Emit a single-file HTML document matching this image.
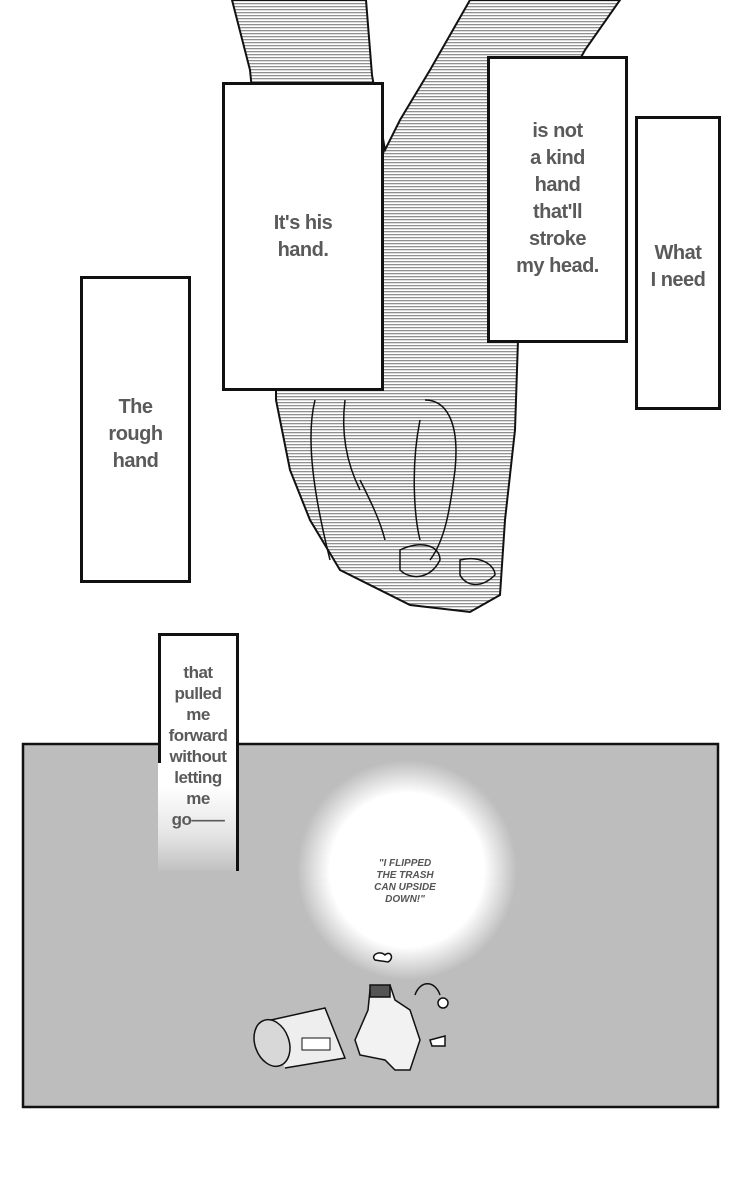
<!DOCTYPE html>
<html><head><meta charset="utf-8"><style>
html,body{margin:0;padding:0;background:#fff;}
body{width:750px;height:1192px;position:relative;overflow:hidden;font-family:"Liberation Sans",sans-serif;}
.box{position:absolute;background:#fff;border:3px solid #111;box-sizing:border-box;}
.t{position:absolute;text-align:center;color:#5a5a5a;font-weight:bold;font-size:20px;line-height:27px;letter-spacing:-0.5px;}
</style></head><body>
<svg width="750" height="1192" style="position:absolute;left:0;top:0">
<defs>
<pattern id="hl" width="4" height="3" patternUnits="userSpaceOnUse">
<rect width="4" height="3" fill="#fff"/><rect width="4" height="1.3" fill="#909090"/>
</pattern>
<radialGradient id="glow" cx="0.5" cy="0.5" r="0.5">
<stop offset="0" stop-color="#fff"/><stop offset="0.7" stop-color="#fff"/><stop offset="1" stop-color="#fff" stop-opacity="0"/>
</radialGradient>
</defs>
<path d="M232,0 L366,0 L372,75 L385,150 L400,120 L430,70 L470,0 L620,0 L585,50 L525,160 L518,340 L515,430 L505,520 L500,595 L470,612 L410,605 L340,570 L310,520 L290,470 L276,400 L276,330 L250,70 Z" fill="url(#hl)" stroke="#111" stroke-width="2"/>
<g fill="none" stroke="#111" stroke-width="1.5">
<path d="M315,400 C305,440 315,500 330,560"/>
<path d="M345,400 C340,440 350,470 360,490"/>
<path d="M425,400 C445,400 460,420 455,470 C450,510 445,540 430,560"/>
<path d="M420,420 C410,470 415,520 420,540"/>
<path d="M400,550 C420,540 440,545 440,560 C430,580 410,580 400,570 Z"/>
<path d="M460,560 C480,555 495,565 495,575 C480,590 465,585 460,575 Z"/>
<path d="M360,480 C370,500 380,520 385,540"/>
</g>
<rect x="23" y="744" width="695" height="363" fill="#bdbdbd" stroke="#111" stroke-width="2.5"/>
<circle cx="407" cy="870" r="110" fill="url(#glow)"/>
<g stroke="#111" stroke-width="1.5">
<path d="M262,1022 L325,1008 L345,1058 L285,1068" fill="#eee"/>
<ellipse cx="272" cy="1043" rx="17" ry="24" fill="#d8d8d8" transform="rotate(-20 272 1043)"/>
<rect x="302" y="1038" width="28" height="12" fill="#fff" stroke-width="1"/>
<path d="M370,990 L390,985 L395,1000 L410,1010 L420,1040 L410,1070 L395,1070 L385,1060 L360,1055 L355,1040 L368,1010 Z" fill="#f2f2f2"/>
<rect x="370" y="985" width="20" height="12" fill="#555"/>
<path d="M375,960 C370,955 380,950 385,955 C390,950 395,958 388,962 Z" fill="#fff"/>
<path d="M415,995 C420,980 435,980 440,995" fill="none"/>
<circle cx="443" cy="1003" r="5" fill="#fff"/>
<path d="M430,1040 L445,1036 L445,1046 L432,1046 Z" fill="#fff"/>
</g>
</svg>

<div class="box" style="left:222px;top:82px;width:162px;height:309px"></div>
<div class="t" style="left:222px;top:210px;width:162px">It's his<br>hand.</div>

<div class="box" style="left:487px;top:56px;width:141px;height:287px"></div>
<div class="t" style="left:487px;top:118px;width:141px">is not<br>a kind<br>hand<br>that'll<br>stroke<br>my head.</div>

<div class="box" style="left:635px;top:116px;width:86px;height:294px"></div>
<div class="t" style="left:635px;top:240px;width:86px">What<br>I need</div>

<div class="box" style="left:80px;top:276px;width:111px;height:307px"></div>
<div class="t" style="left:80px;top:394px;width:111px">The<br>rough<br>hand</div>

<div style="position:absolute;left:158px;top:633px;width:81px;height:238px;border-top:3px solid #111;border-right:3px solid #111;box-sizing:border-box;background:linear-gradient(#fff 0,#fff 150px,#e4e4e4 200px,#bdbdbd 238px)"></div>
<div style="position:absolute;left:158px;top:633px;width:3px;height:130px;background:#111"></div>
<div class="t" style="left:158px;top:662px;width:80px;font-size:17px;line-height:21px">that<br>pulled<br>me<br>forward<br>without<br>letting<br>me<br>go——</div>

<div style="position:absolute;left:330px;top:858px;width:150px;text-align:center;font-style:italic;font-weight:bold;font-size:10px;line-height:12px;color:#555">"I FLIPPED<br>THE TRASH<br>CAN UPSIDE<br>DOWN!"</div>
</body></html>
